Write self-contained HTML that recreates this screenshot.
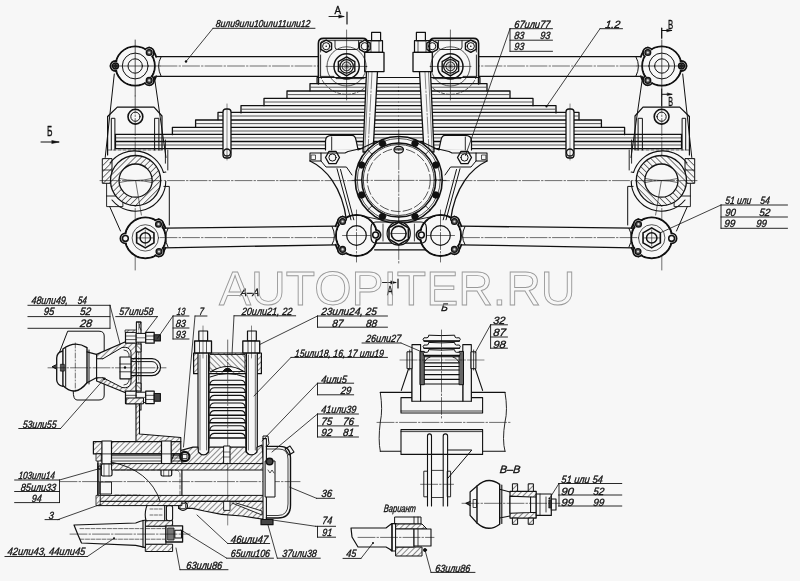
<!DOCTYPE html>
<html><head><meta charset="utf-8"><style>
html,body{margin:0;padding:0;background:#f7f7f7;}
svg{display:block;filter:grayscale(100%);}
text{font-family:"Liberation Sans",sans-serif;font-style:italic;fill:#111;stroke:#111;stroke-width:0.35;}
</style></head><body>
<svg width="800" height="581" viewBox="0 0 800 581">
<defs>
<pattern id="h45" patternUnits="userSpaceOnUse" width="4" height="4" patternTransform="rotate(45)">
<rect width="4" height="4" fill="#f7f7f7"/><line x1="0" y1="0" x2="0" y2="4" stroke="#1a1a1a" stroke-width="1"/></pattern>
<pattern id="h135" patternUnits="userSpaceOnUse" width="4" height="4" patternTransform="rotate(-45)">
<rect width="4" height="4" fill="#f7f7f7"/><line x1="0" y1="0" x2="0" y2="4" stroke="#1a1a1a" stroke-width="1"/></pattern>
<pattern id="hatch" patternUnits="userSpaceOnUse" width="4.3" height="4.3" patternTransform="rotate(45)">
<rect width="4.3" height="4.3" fill="#f7f7f7"/><line x1="0" y1="0" x2="0" y2="4.3" stroke="#1a1a1a" stroke-width="1.2"/></pattern>
</defs>
<rect width="800" height="581" fill="#f7f7f7"/>
<g fill="none" stroke="#111" stroke-linecap="round" stroke-linejoin="round">
<g><path d="M149.2,47.5 Q153.2,48.5 156.2,56.7" stroke-width="1.8" fill="none" /><path d="M149.2,85.4 Q153.2,84.4 156.2,76.3" stroke-width="1.8" fill="none" /><path d="M152.2,56.6 L152.2,76.35" stroke-width="1.2" fill="none" /><circle cx="135.2" cy="66" r="19.6" stroke-width="2" fill="#f7f7f7" /><circle cx="149.2" cy="52.5" r="4.8" stroke-width="1.8" fill="#f7f7f7" /><circle cx="149.2" cy="80.4" r="4.8" stroke-width="1.8" fill="#f7f7f7" /><circle cx="115.5" cy="66" r="5" stroke-width="1.8" fill="#f7f7f7" /><circle cx="135.2" cy="66" r="18.6" stroke-width="0" fill="#f7f7f7" /><circle cx="149.2" cy="52.5" r="2.9" stroke-width="1.3" fill="#555" /><circle cx="149.2" cy="52.5" r="1.1" stroke-width="0" fill="#ddd" /><circle cx="149.2" cy="80.4" r="2.9" stroke-width="1.3" fill="#555" /><circle cx="149.2" cy="80.4" r="1.1" stroke-width="0" fill="#ddd" /><circle cx="115.5" cy="66" r="2.9" stroke-width="1.5" fill="none" /><path d="M113.3,66 l2.2,-2.4 l2.2,2.4 l-2.2,2.4z" stroke-width="0.8" fill="#222" /><circle cx="135.2" cy="66" r="12.9" stroke-width="1" fill="none" /><circle cx="135.2" cy="66" r="7.2" stroke-width="1" fill="none" /><line x1="135.2" y1="40" x2="135.2" y2="96" stroke-width="0.7" /><line x1="110" y1="66" x2="160" y2="66" stroke-width="0.7" /><line x1="156" y1="56.7" x2="318" y2="56.7" stroke-width="1.3" /><line x1="156" y1="76.3" x2="318" y2="76.3" stroke-width="1.3" /><path d="M161,57 Q156,66 161,76" stroke-width="1" fill="none" /><line x1="160" y1="66" x2="318" y2="66" stroke-width="0.6" stroke-dasharray="17 2 1.5 2"/><path d="M318.4,84 L318.4,43.4 Q318.4,38.4 323.4,38.4 L362.6,38.4 Q367.6,38.4 367.6,43.4 L367.6,52" stroke-width="1.6" fill="none" /><path d="M320.6,55 L320.6,76.4 L334,76.4 L336,78.6 L364,78.6" stroke-width="0.9" fill="none" /><path d="M320.6,52 L320.6,44 Q320.6,40.6 324,40.6 L362,40.6" stroke-width="0.8" fill="none" /><path d="M335,40.6 L335,47 Q335,49.5 337.5,49.5 L356,49.5 Q358.6,49.5 358.6,47 L358.6,40.6" stroke-width="0.9" fill="none" /><polygon points="326.20,52.40 320.83,49.30 320.83,43.10 326.20,40.00 331.57,43.10 331.57,49.30" stroke-width="1.4" fill="none"/><circle cx="326.2" cy="46.2" r="3.6" stroke-width="1" fill="none" /><circle cx="326.2" cy="46.2" r="0.8" stroke-width="0" fill="#111" /><polygon points="364.80,52.40 359.43,49.30 359.43,43.10 364.80,40.00 370.17,43.10 370.17,49.30" stroke-width="1.4" fill="none"/><circle cx="364.8" cy="46.2" r="3.6" stroke-width="1" fill="none" /><circle cx="346.6" cy="66.4" r="19.6" stroke-width="0.7" fill="none" /><path d="M320.3,76 A28,28 0 0 0 372.9,76" stroke-width="0.7" fill="none" stroke-dasharray="3 2"/><circle cx="346.6" cy="66.4" r="12.6" stroke-width="1.5" fill="none" /><polygon points="346.60,75.90 338.37,71.15 338.37,61.65 346.60,56.90 354.83,61.65 354.83,71.15" stroke-width="1.4" fill="none"/><circle cx="346.6" cy="66.4" r="6.7" stroke-width="1.3" fill="none" /><circle cx="346.6" cy="66.4" r="4.5" stroke-width="0.9" fill="none" /><line x1="351.1" y1="66.4" x2="342.1" y2="66.4" stroke-width="0.4" /><line x1="350.49711431702997" y1="68.65" x2="342.7028856829701" y2="64.15" stroke-width="0.4" /><line x1="348.85" y1="70.29711431702998" x2="344.35" y2="62.50288568297003" stroke-width="0.4" /><line x1="346.6" y1="70.9" x2="346.6" y2="61.900000000000006" stroke-width="0.4" /><line x1="344.35" y1="70.29711431702998" x2="348.85" y2="62.50288568297003" stroke-width="0.4" /><line x1="342.7028856829701" y1="68.65" x2="350.49711431702997" y2="64.15" stroke-width="0.4" /><line x1="346.6" y1="30" x2="346.6" y2="100" stroke-width="0.6" /><line x1="326" y1="66.4" x2="367" y2="66.4" stroke-width="0.6" /><rect x="364.7" y="52.4" width="19.3" height="19.2" rx="0" stroke-width="1.3" fill="none" /><rect x="367.5" y="40.7" width="15" height="11.7" rx="0" stroke-width="1.2" fill="none" /><line x1="371" y1="40.7" x2="371" y2="52.4" stroke-width="0.7" /><line x1="379" y1="40.7" x2="379" y2="52.4" stroke-width="0.7" /><rect x="371.6" y="32.4" width="9" height="8.3" rx="0" stroke-width="1.2" fill="none" /><path d="M398.5,83.6 L310,83.6 L310,90.89999999999999" stroke-width="1.3" fill="none" /><line x1="310.7" y1="87.19999999999999" x2="398.5" y2="87.19999999999999" stroke-width="0.9" stroke="#444"/><path d="M398.5,91 L287,91 L287,98.3" stroke-width="1.3" fill="none" /><line x1="287.7" y1="94.6" x2="398.5" y2="94.6" stroke-width="0.9" stroke="#444"/><path d="M398.5,98.4 L264,98.4 L264,105.7" stroke-width="1.3" fill="none" /><line x1="264.7" y1="102.0" x2="398.5" y2="102.0" stroke-width="0.9" stroke="#444"/><path d="M398.5,105.6 L241,105.6 L241,112.89999999999999" stroke-width="1.3" fill="none" /><line x1="241.7" y1="109.19999999999999" x2="398.5" y2="109.19999999999999" stroke-width="0.9" stroke="#444"/><path d="M398.5,112.4 L218,112.4 L218,119.7" stroke-width="1.3" fill="none" /><line x1="218.7" y1="116.0" x2="398.5" y2="116.0" stroke-width="0.9" stroke="#444"/><path d="M398.5,120 L195.6,120 L195.6,127.3" stroke-width="1.3" fill="none" /><line x1="196.29999999999998" y1="123.6" x2="398.5" y2="123.6" stroke-width="0.9" stroke="#444"/><path d="M398.5,127.4 L172.4,127.4 L172.4,134.70000000000002" stroke-width="1.3" fill="none" /><line x1="173.1" y1="131.0" x2="398.5" y2="131.0" stroke-width="0.9" stroke="#444"/><line x1="115.5" y1="134.4" x2="398.5" y2="134.4" stroke-width="1.3" /><line x1="115.5" y1="137.9" x2="398.5" y2="137.9" stroke-width="0.9" stroke="#444"/><line x1="115.5" y1="141.5" x2="398.5" y2="141.5" stroke-width="1.3" /><line x1="115.5" y1="145" x2="398.5" y2="145" stroke-width="0.9" stroke="#444"/><line x1="115.5" y1="148.6" x2="398.5" y2="148.6" stroke-width="1.3" /><line x1="115.5" y1="134.4" x2="115.5" y2="148.4" stroke-width="1.2" /><path d="M398.5,77.5 L317,77.5 L317,83.6" stroke-width="1.1" fill="none" /><path d="M366.5,71.6 L377.5,71.6 L373,152 L363,152 Z" stroke-width="1.3" fill="#f7f7f7" /><line x1="372" y1="72" x2="368" y2="151" stroke-width="0.5" stroke-dasharray="17 2 1.5 2"/><line x1="368.5" y1="72" x2="364.8" y2="151" stroke-width="0.5" /><rect x="223" y="109" width="8" height="49" rx="3" stroke-width="1.3" fill="#f7f7f7" /><circle cx="227" cy="152.5" r="3.5" stroke-width="1.3" fill="none" /><line x1="227" y1="104" x2="227" y2="160" stroke-width="0.5" /><path d="M107.6,116.5 L117.3,107.1 L154,107.1 L162,116 L162,150" stroke-width="1.2" fill="none" /><path d="M107.6,116.5 L107.6,155" stroke-width="1.2" fill="none" /><path d="M111.3,150 L111.3,118.3 L114.9,118.3 L114.9,150" stroke-width="1" fill="none" /><path d="M154.6,150 L154.6,118.3 L158.9,118.3 L158.9,150" stroke-width="1" fill="none" /><circle cx="135.4" cy="116.7" r="7.4" stroke-width="1.6" fill="none" /><circle cx="135.4" cy="116.7" r="4.6" stroke-width="1" fill="none" /><line x1="114.3" y1="74" x2="105.2" y2="157.5" stroke-width="1" /><line x1="154.3" y1="76.3" x2="166" y2="157.5" stroke-width="1" /><line x1="135.2" y1="96" x2="135.2" y2="270" stroke-width="0.6" stroke-dasharray="17 2 1.5 2"/><path d="M106.6,183 L106.6,206.6 L122.9,206.6 L122.9,196 L106.6,196" stroke-width="0.9" fill="none" /><rect x="102.7" y="158.6" width="9.3" height="24.7" rx="0" stroke-width="1" fill="url(#hatch)" /><line x1="102.7" y1="170" x2="112" y2="170" stroke-width="0.8" /><circle cx="135.6" cy="180.6" r="25.1" stroke-width="0" fill="#f7f7f7" /><circle cx="135.6" cy="180.6" r="20.9" stroke-width="8.4" fill="none" stroke="url(#hatch)"/><circle cx="135.6" cy="180.6" r="25.1" stroke-width="1.3" fill="none" /><circle cx="135.6" cy="180.6" r="16.6" stroke-width="1.3" fill="none" /><path d="M110,163 A30.5,30.5 0 0 1 163.5,172.5" stroke-width="1.1" fill="none" /><path d="M163.5,172.5 L165.8,172" stroke-width="1.1" fill="none" /><path d="M165.8,181 A30.3,30.3 0 0 1 112,200" stroke-width="1.1" fill="none" /><path d="M119.5,178.5 Q135.6,182.5 151.7,178.5 M119.5,182.5 Q135.6,178.5 151.7,182.5" stroke-width="0.6" fill="none" /><line x1="100" y1="180.6" x2="398.5" y2="180.6" stroke-width="0.6" stroke-dasharray="17 2 1.5 2"/><line x1="135.6" y1="180.6" x2="141.4" y2="215" stroke-width="0.6" /><line x1="109.7" y1="206.6" x2="120.5" y2="231" stroke-width="1" /><path d="M163.9,186.4 L169.3,186.4 L169.3,225" stroke-width="1" fill="none" /><line x1="165.4" y1="140" x2="165.4" y2="163.2" stroke-width="0.9" /><line x1="167.8" y1="150" x2="167.8" y2="170" stroke-width="0.9" /><line x1="108" y1="150" x2="163" y2="150" stroke-width="0.6" stroke-dasharray="3 2"/><path d="M158.5,219.2 Q162.5,220.2 165.5,228" stroke-width="1.8" fill="none" /><path d="M158.5,256.6 Q162.5,255.6 165.5,247.8" stroke-width="1.8" fill="none" /><path d="M161.5,228.1 L161.5,247.7" stroke-width="1.2" fill="none" /><circle cx="145.3" cy="237.9" r="20.3" stroke-width="2" fill="#f7f7f7" /><circle cx="158.5" cy="224.2" r="4.8" stroke-width="1.8" fill="#f7f7f7" /><circle cx="159" cy="251.6" r="4.8" stroke-width="1.8" fill="#f7f7f7" /><circle cx="125.4" cy="238.4" r="5" stroke-width="1.8" fill="#f7f7f7" /><circle cx="145.3" cy="237.9" r="19.3" stroke-width="0" fill="#f7f7f7" /><circle cx="158.5" cy="224.2" r="2.9" stroke-width="1.3" fill="#555" /><circle cx="158.5" cy="224.2" r="1.1" stroke-width="0" fill="#ddd" /><circle cx="159" cy="251.6" r="2.9" stroke-width="1.3" fill="#555" /><circle cx="159" cy="251.6" r="1.1" stroke-width="0" fill="#ddd" /><circle cx="125.4" cy="238.4" r="2.9" stroke-width="1.5" fill="none" /><polygon points="145.30,247.90 136.64,242.90 136.64,232.90 145.30,227.90 153.96,232.90 153.96,242.90" stroke-width="1.6" fill="none"/><circle cx="145.3" cy="237.9" r="5.2" stroke-width="1.5" fill="none" /><circle cx="145.3" cy="237.9" r="13.2" stroke-width="0.7" fill="none" /><line x1="137.3" y1="237.9" x2="153.3" y2="237.9" stroke-width="0.6" /><line x1="145.3" y1="229.9" x2="145.3" y2="245.9" stroke-width="0.6" /><line x1="164" y1="228.1" x2="336" y2="226.2" stroke-width="1.3" /><line x1="164" y1="247.8" x2="336" y2="244.8" stroke-width="1.3" /><path d="M168,228.5 Q163,237.6 168,247" stroke-width="1" fill="none" /><path d="M332,226.5 Q337,236 332,244.6" stroke-width="1" fill="none" /><line x1="160" y1="237.6" x2="336" y2="237.6" stroke-width="0.6" stroke-dasharray="17 2 1.5 2"/><path d="M342.6,216.5 Q338.6,217.5 335.6,226.2" stroke-width="1.8" fill="none" /><path d="M342.6,254.4 Q338.6,253.4 335.6,244.8" stroke-width="1.8" fill="none" /><path d="M339.6,225.85 L339.6,245.10000000000002" stroke-width="1.2" fill="none" /><circle cx="356.5" cy="235.5" r="20.5" stroke-width="2" fill="#f7f7f7" /><circle cx="342.6" cy="221.5" r="4.8" stroke-width="1.8" fill="#f7f7f7" /><circle cx="342.6" cy="249.4" r="4.8" stroke-width="1.8" fill="#f7f7f7" /><circle cx="375.6" cy="235" r="5" stroke-width="1.8" fill="#f7f7f7" /><circle cx="356.5" cy="235.5" r="19.5" stroke-width="0" fill="#f7f7f7" /><circle cx="342.6" cy="221.5" r="2.9" stroke-width="1.3" fill="#555" /><circle cx="342.6" cy="221.5" r="1.1" stroke-width="0" fill="#ddd" /><circle cx="342.6" cy="249.4" r="2.9" stroke-width="1.3" fill="#555" /><circle cx="342.6" cy="249.4" r="1.1" stroke-width="0" fill="#ddd" /><circle cx="375.6" cy="235" r="2.9" stroke-width="1.5" fill="none" /><circle cx="356.5" cy="235.5" r="9.8" stroke-width="1.2" fill="none" /><line x1="342.5" y1="235.5" x2="370.5" y2="235.5" stroke-width="0.6" /><line x1="356.5" y1="210" x2="356.5" y2="262" stroke-width="0.6" stroke-dasharray="17 2 1.5 2"/><path d="M325.5,150 L325.5,141 Q325.5,135.4 332,135.4 L352,135.4 Q355,135.4 356,140 L358,149.4" stroke-width="1.2" fill="#f7f7f7" /><line x1="331.7" y1="137" x2="331.7" y2="150" stroke-width="0.9" /><path d="M310,153 L310,161 L321,161 L321,153 Z" stroke-width="1.1" fill="none" /><rect x="311.5" y="155" width="4" height="4.5" rx="0" stroke-width="0.7" fill="none" /><path d="M310,161 C325,168 342,186 346.4,220" stroke-width="1.3" fill="none" /><path d="M321,153 L345,153 L348,151.5 L360,148.8" stroke-width="1.1" fill="none" /><path d="M321,161 L326,167 L346.4,167 L352,175" stroke-width="1.0" fill="none" /><path d="M337,168.7 L351,219.8 M340.5,169.5 L353.8,219.8" stroke-width="1.0" fill="none" /><polygon points="339.50,157.50 336.00,163.56 329.00,163.56 325.50,157.50 329.00,151.44 336.00,151.44" stroke-width="1.3" fill="none"/><circle cx="332.5" cy="157.5" r="3.6" stroke-width="1" fill="none" /><path d="M358,150 L375,142" stroke-width="1.1" fill="none" /></g><g transform="matrix(-1,0,0,1,797.0,0)"><path d="M149.2,47.5 Q153.2,48.5 156.2,56.7" stroke-width="1.8" fill="none" /><path d="M149.2,85.4 Q153.2,84.4 156.2,76.3" stroke-width="1.8" fill="none" /><path d="M152.2,56.6 L152.2,76.35" stroke-width="1.2" fill="none" /><circle cx="135.2" cy="66" r="19.6" stroke-width="2" fill="#f7f7f7" /><circle cx="149.2" cy="52.5" r="4.8" stroke-width="1.8" fill="#f7f7f7" /><circle cx="149.2" cy="80.4" r="4.8" stroke-width="1.8" fill="#f7f7f7" /><circle cx="115.5" cy="66" r="5" stroke-width="1.8" fill="#f7f7f7" /><circle cx="135.2" cy="66" r="18.6" stroke-width="0" fill="#f7f7f7" /><circle cx="149.2" cy="52.5" r="2.9" stroke-width="1.3" fill="#555" /><circle cx="149.2" cy="52.5" r="1.1" stroke-width="0" fill="#ddd" /><circle cx="149.2" cy="80.4" r="2.9" stroke-width="1.3" fill="#555" /><circle cx="149.2" cy="80.4" r="1.1" stroke-width="0" fill="#ddd" /><circle cx="115.5" cy="66" r="2.9" stroke-width="1.5" fill="none" /><path d="M113.3,66 l2.2,-2.4 l2.2,2.4 l-2.2,2.4z" stroke-width="0.8" fill="#222" /><circle cx="135.2" cy="66" r="12.9" stroke-width="1" fill="none" /><circle cx="135.2" cy="66" r="7.2" stroke-width="1" fill="none" /><line x1="135.2" y1="40" x2="135.2" y2="96" stroke-width="0.7" /><line x1="110" y1="66" x2="160" y2="66" stroke-width="0.7" /><line x1="156" y1="56.7" x2="318" y2="56.7" stroke-width="1.3" /><line x1="156" y1="76.3" x2="318" y2="76.3" stroke-width="1.3" /><path d="M161,57 Q156,66 161,76" stroke-width="1" fill="none" /><line x1="160" y1="66" x2="318" y2="66" stroke-width="0.6" stroke-dasharray="17 2 1.5 2"/><path d="M318.4,84 L318.4,43.4 Q318.4,38.4 323.4,38.4 L362.6,38.4 Q367.6,38.4 367.6,43.4 L367.6,52" stroke-width="1.6" fill="none" /><path d="M320.6,55 L320.6,76.4 L334,76.4 L336,78.6 L364,78.6" stroke-width="0.9" fill="none" /><path d="M320.6,52 L320.6,44 Q320.6,40.6 324,40.6 L362,40.6" stroke-width="0.8" fill="none" /><path d="M335,40.6 L335,47 Q335,49.5 337.5,49.5 L356,49.5 Q358.6,49.5 358.6,47 L358.6,40.6" stroke-width="0.9" fill="none" /><polygon points="326.20,52.40 320.83,49.30 320.83,43.10 326.20,40.00 331.57,43.10 331.57,49.30" stroke-width="1.4" fill="none"/><circle cx="326.2" cy="46.2" r="3.6" stroke-width="1" fill="none" /><circle cx="326.2" cy="46.2" r="0.8" stroke-width="0" fill="#111" /><polygon points="364.80,52.40 359.43,49.30 359.43,43.10 364.80,40.00 370.17,43.10 370.17,49.30" stroke-width="1.4" fill="none"/><circle cx="364.8" cy="46.2" r="3.6" stroke-width="1" fill="none" /><circle cx="346.6" cy="66.4" r="19.6" stroke-width="0.7" fill="none" /><path d="M320.3,76 A28,28 0 0 0 372.9,76" stroke-width="0.7" fill="none" stroke-dasharray="3 2"/><circle cx="346.6" cy="66.4" r="12.6" stroke-width="1.5" fill="none" /><polygon points="346.60,75.90 338.37,71.15 338.37,61.65 346.60,56.90 354.83,61.65 354.83,71.15" stroke-width="1.4" fill="none"/><circle cx="346.6" cy="66.4" r="6.7" stroke-width="1.3" fill="none" /><circle cx="346.6" cy="66.4" r="4.5" stroke-width="0.9" fill="none" /><line x1="351.1" y1="66.4" x2="342.1" y2="66.4" stroke-width="0.4" /><line x1="350.49711431702997" y1="68.65" x2="342.7028856829701" y2="64.15" stroke-width="0.4" /><line x1="348.85" y1="70.29711431702998" x2="344.35" y2="62.50288568297003" stroke-width="0.4" /><line x1="346.6" y1="70.9" x2="346.6" y2="61.900000000000006" stroke-width="0.4" /><line x1="344.35" y1="70.29711431702998" x2="348.85" y2="62.50288568297003" stroke-width="0.4" /><line x1="342.7028856829701" y1="68.65" x2="350.49711431702997" y2="64.15" stroke-width="0.4" /><line x1="346.6" y1="30" x2="346.6" y2="100" stroke-width="0.6" /><line x1="326" y1="66.4" x2="367" y2="66.4" stroke-width="0.6" /><rect x="364.7" y="52.4" width="19.3" height="19.2" rx="0" stroke-width="1.3" fill="none" /><rect x="367.5" y="40.7" width="15" height="11.7" rx="0" stroke-width="1.2" fill="none" /><line x1="371" y1="40.7" x2="371" y2="52.4" stroke-width="0.7" /><line x1="379" y1="40.7" x2="379" y2="52.4" stroke-width="0.7" /><rect x="371.6" y="32.4" width="9" height="8.3" rx="0" stroke-width="1.2" fill="none" /><path d="M398.5,83.6 L310,83.6 L310,90.89999999999999" stroke-width="1.3" fill="none" /><line x1="310.7" y1="87.19999999999999" x2="398.5" y2="87.19999999999999" stroke-width="0.9" stroke="#444"/><path d="M398.5,91 L287,91 L287,98.3" stroke-width="1.3" fill="none" /><line x1="287.7" y1="94.6" x2="398.5" y2="94.6" stroke-width="0.9" stroke="#444"/><path d="M398.5,98.4 L264,98.4 L264,105.7" stroke-width="1.3" fill="none" /><line x1="264.7" y1="102.0" x2="398.5" y2="102.0" stroke-width="0.9" stroke="#444"/><path d="M398.5,105.6 L241,105.6 L241,112.89999999999999" stroke-width="1.3" fill="none" /><line x1="241.7" y1="109.19999999999999" x2="398.5" y2="109.19999999999999" stroke-width="0.9" stroke="#444"/><path d="M398.5,112.4 L218,112.4 L218,119.7" stroke-width="1.3" fill="none" /><line x1="218.7" y1="116.0" x2="398.5" y2="116.0" stroke-width="0.9" stroke="#444"/><path d="M398.5,120 L195.6,120 L195.6,127.3" stroke-width="1.3" fill="none" /><line x1="196.29999999999998" y1="123.6" x2="398.5" y2="123.6" stroke-width="0.9" stroke="#444"/><path d="M398.5,127.4 L172.4,127.4 L172.4,134.70000000000002" stroke-width="1.3" fill="none" /><line x1="173.1" y1="131.0" x2="398.5" y2="131.0" stroke-width="0.9" stroke="#444"/><line x1="115.5" y1="134.4" x2="398.5" y2="134.4" stroke-width="1.3" /><line x1="115.5" y1="137.9" x2="398.5" y2="137.9" stroke-width="0.9" stroke="#444"/><line x1="115.5" y1="141.5" x2="398.5" y2="141.5" stroke-width="1.3" /><line x1="115.5" y1="145" x2="398.5" y2="145" stroke-width="0.9" stroke="#444"/><line x1="115.5" y1="148.6" x2="398.5" y2="148.6" stroke-width="1.3" /><line x1="115.5" y1="134.4" x2="115.5" y2="148.4" stroke-width="1.2" /><path d="M398.5,77.5 L317,77.5 L317,83.6" stroke-width="1.1" fill="none" /><path d="M366.5,71.6 L377.5,71.6 L373,152 L363,152 Z" stroke-width="1.3" fill="#f7f7f7" /><line x1="372" y1="72" x2="368" y2="151" stroke-width="0.5" stroke-dasharray="17 2 1.5 2"/><line x1="368.5" y1="72" x2="364.8" y2="151" stroke-width="0.5" /><rect x="223" y="109" width="8" height="49" rx="3" stroke-width="1.3" fill="#f7f7f7" /><circle cx="227" cy="152.5" r="3.5" stroke-width="1.3" fill="none" /><line x1="227" y1="104" x2="227" y2="160" stroke-width="0.5" /><path d="M107.6,116.5 L117.3,107.1 L154,107.1 L162,116 L162,150" stroke-width="1.2" fill="none" /><path d="M107.6,116.5 L107.6,155" stroke-width="1.2" fill="none" /><path d="M111.3,150 L111.3,118.3 L114.9,118.3 L114.9,150" stroke-width="1" fill="none" /><path d="M154.6,150 L154.6,118.3 L158.9,118.3 L158.9,150" stroke-width="1" fill="none" /><circle cx="135.4" cy="116.7" r="7.4" stroke-width="1.6" fill="none" /><circle cx="135.4" cy="116.7" r="4.6" stroke-width="1" fill="none" /><line x1="114.3" y1="74" x2="105.2" y2="157.5" stroke-width="1" /><line x1="154.3" y1="76.3" x2="166" y2="157.5" stroke-width="1" /><line x1="135.2" y1="96" x2="135.2" y2="270" stroke-width="0.6" stroke-dasharray="17 2 1.5 2"/><path d="M106.6,183 L106.6,206.6 L122.9,206.6 L122.9,196 L106.6,196" stroke-width="0.9" fill="none" /><rect x="102.7" y="158.6" width="9.3" height="24.7" rx="0" stroke-width="1" fill="url(#hatch)" /><line x1="102.7" y1="170" x2="112" y2="170" stroke-width="0.8" /><circle cx="135.6" cy="180.6" r="25.1" stroke-width="0" fill="#f7f7f7" /><circle cx="135.6" cy="180.6" r="20.9" stroke-width="8.4" fill="none" stroke="url(#hatch)"/><circle cx="135.6" cy="180.6" r="25.1" stroke-width="1.3" fill="none" /><circle cx="135.6" cy="180.6" r="16.6" stroke-width="1.3" fill="none" /><path d="M110,163 A30.5,30.5 0 0 1 163.5,172.5" stroke-width="1.1" fill="none" /><path d="M163.5,172.5 L165.8,172" stroke-width="1.1" fill="none" /><path d="M165.8,181 A30.3,30.3 0 0 1 112,200" stroke-width="1.1" fill="none" /><path d="M119.5,178.5 Q135.6,182.5 151.7,178.5 M119.5,182.5 Q135.6,178.5 151.7,182.5" stroke-width="0.6" fill="none" /><line x1="100" y1="180.6" x2="398.5" y2="180.6" stroke-width="0.6" stroke-dasharray="17 2 1.5 2"/><line x1="135.6" y1="180.6" x2="141.4" y2="215" stroke-width="0.6" /><line x1="109.7" y1="206.6" x2="120.5" y2="231" stroke-width="1" /><path d="M163.9,186.4 L169.3,186.4 L169.3,225" stroke-width="1" fill="none" /><line x1="165.4" y1="140" x2="165.4" y2="163.2" stroke-width="0.9" /><line x1="167.8" y1="150" x2="167.8" y2="170" stroke-width="0.9" /><line x1="108" y1="150" x2="163" y2="150" stroke-width="0.6" stroke-dasharray="3 2"/><path d="M158.5,219.2 Q162.5,220.2 165.5,228" stroke-width="1.8" fill="none" /><path d="M158.5,256.6 Q162.5,255.6 165.5,247.8" stroke-width="1.8" fill="none" /><path d="M161.5,228.1 L161.5,247.7" stroke-width="1.2" fill="none" /><circle cx="145.3" cy="237.9" r="20.3" stroke-width="2" fill="#f7f7f7" /><circle cx="158.5" cy="224.2" r="4.8" stroke-width="1.8" fill="#f7f7f7" /><circle cx="159" cy="251.6" r="4.8" stroke-width="1.8" fill="#f7f7f7" /><circle cx="125.4" cy="238.4" r="5" stroke-width="1.8" fill="#f7f7f7" /><circle cx="145.3" cy="237.9" r="19.3" stroke-width="0" fill="#f7f7f7" /><circle cx="158.5" cy="224.2" r="2.9" stroke-width="1.3" fill="#555" /><circle cx="158.5" cy="224.2" r="1.1" stroke-width="0" fill="#ddd" /><circle cx="159" cy="251.6" r="2.9" stroke-width="1.3" fill="#555" /><circle cx="159" cy="251.6" r="1.1" stroke-width="0" fill="#ddd" /><circle cx="125.4" cy="238.4" r="2.9" stroke-width="1.5" fill="none" /><polygon points="145.30,247.90 136.64,242.90 136.64,232.90 145.30,227.90 153.96,232.90 153.96,242.90" stroke-width="1.6" fill="none"/><circle cx="145.3" cy="237.9" r="5.2" stroke-width="1.5" fill="none" /><circle cx="145.3" cy="237.9" r="13.2" stroke-width="0.7" fill="none" /><line x1="137.3" y1="237.9" x2="153.3" y2="237.9" stroke-width="0.6" /><line x1="145.3" y1="229.9" x2="145.3" y2="245.9" stroke-width="0.6" /><line x1="164" y1="228.1" x2="336" y2="226.2" stroke-width="1.3" /><line x1="164" y1="247.8" x2="336" y2="244.8" stroke-width="1.3" /><path d="M168,228.5 Q163,237.6 168,247" stroke-width="1" fill="none" /><path d="M332,226.5 Q337,236 332,244.6" stroke-width="1" fill="none" /><line x1="160" y1="237.6" x2="336" y2="237.6" stroke-width="0.6" stroke-dasharray="17 2 1.5 2"/><path d="M342.6,216.5 Q338.6,217.5 335.6,226.2" stroke-width="1.8" fill="none" /><path d="M342.6,254.4 Q338.6,253.4 335.6,244.8" stroke-width="1.8" fill="none" /><path d="M339.6,225.85 L339.6,245.10000000000002" stroke-width="1.2" fill="none" /><circle cx="356.5" cy="235.5" r="20.5" stroke-width="2" fill="#f7f7f7" /><circle cx="342.6" cy="221.5" r="4.8" stroke-width="1.8" fill="#f7f7f7" /><circle cx="342.6" cy="249.4" r="4.8" stroke-width="1.8" fill="#f7f7f7" /><circle cx="375.6" cy="235" r="5" stroke-width="1.8" fill="#f7f7f7" /><circle cx="356.5" cy="235.5" r="19.5" stroke-width="0" fill="#f7f7f7" /><circle cx="342.6" cy="221.5" r="2.9" stroke-width="1.3" fill="#555" /><circle cx="342.6" cy="221.5" r="1.1" stroke-width="0" fill="#ddd" /><circle cx="342.6" cy="249.4" r="2.9" stroke-width="1.3" fill="#555" /><circle cx="342.6" cy="249.4" r="1.1" stroke-width="0" fill="#ddd" /><circle cx="375.6" cy="235" r="2.9" stroke-width="1.5" fill="none" /><circle cx="356.5" cy="235.5" r="9.8" stroke-width="1.2" fill="none" /><line x1="342.5" y1="235.5" x2="370.5" y2="235.5" stroke-width="0.6" /><line x1="356.5" y1="210" x2="356.5" y2="262" stroke-width="0.6" stroke-dasharray="17 2 1.5 2"/><path d="M325.5,150 L325.5,141 Q325.5,135.4 332,135.4 L352,135.4 Q355,135.4 356,140 L358,149.4" stroke-width="1.2" fill="#f7f7f7" /><line x1="331.7" y1="137" x2="331.7" y2="150" stroke-width="0.9" /><path d="M310,153 L310,161 L321,161 L321,153 Z" stroke-width="1.1" fill="none" /><rect x="311.5" y="155" width="4" height="4.5" rx="0" stroke-width="0.7" fill="none" /><path d="M310,161 C325,168 342,186 346.4,220" stroke-width="1.3" fill="none" /><path d="M321,153 L345,153 L348,151.5 L360,148.8" stroke-width="1.1" fill="none" /><path d="M321,161 L326,167 L346.4,167 L352,175" stroke-width="1.0" fill="none" /><path d="M337,168.7 L351,219.8 M340.5,169.5 L353.8,219.8" stroke-width="1.0" fill="none" /><polygon points="339.50,157.50 336.00,163.56 329.00,163.56 325.50,157.50 329.00,151.44 336.00,151.44" stroke-width="1.3" fill="none"/><circle cx="332.5" cy="157.5" r="3.6" stroke-width="1" fill="none" /><path d="M358,150 L375,142" stroke-width="1.1" fill="none" /></g><circle cx="398.75" cy="180" r="43.5" stroke-width="1.6" fill="#f7f7f7" /><circle cx="398.75" cy="180" r="41.5" stroke-width="0.7" fill="none" /><circle cx="398.75" cy="180" r="37" stroke-width="1.5" fill="none" /><circle cx="398.75" cy="180" r="35.5" stroke-width="0.8" fill="none" /><circle cx="398.75" cy="180" r="31.5" stroke-width="0.7" fill="none" stroke-dasharray="9 3"/><circle cx="435.8373541826715" cy="194.98426373663648" r="3.3" stroke-width="0.8" fill="#111" /><circle cx="415.019465723032" cy="216.54181830570403" r="3.3" stroke-width="0.8" fill="#111" /><circle cx="382.480534276968" cy="216.54181830570403" r="3.3" stroke-width="0.8" fill="#111" /><circle cx="361.6626458173285" cy="194.98426373663648" r="3.3" stroke-width="0.8" fill="#111" /><circle cx="361.6626458173285" cy="165.01573626336352" r="3.3" stroke-width="0.8" fill="#111" /><circle cx="382.480534276968" cy="143.45818169429594" r="3.3" stroke-width="0.8" fill="#111" /><circle cx="415.019465723032" cy="143.45818169429594" r="3.3" stroke-width="0.8" fill="#111" /><circle cx="435.8373541826715" cy="165.0157362633635" r="3.3" stroke-width="0.8" fill="#111" /><line x1="435.75" y1="180.0" x2="442.25" y2="180.0" stroke-width="0.8" /><line x1="425.3655726125301" y1="205.7023597069829" x2="430.04128131473135" y2="210.21763911496637" stroke-width="0.8" /><line x1="398.75" y1="217.0" x2="398.75" y2="223.5" stroke-width="0.8" /><line x1="372.1344273874699" y1="205.7023597069829" x2="367.45871868526865" y2="210.21763911496637" stroke-width="0.8" /><line x1="361.75" y1="180.0" x2="355.25" y2="180.0" stroke-width="0.8" /><line x1="372.1344273874699" y1="154.29764029301708" x2="367.45871868526865" y2="149.78236088503363" stroke-width="0.8" /><line x1="398.75" y1="143.0" x2="398.75" y2="136.5" stroke-width="0.8" /><line x1="425.36557261253006" y1="154.29764029301708" x2="430.0412813147313" y2="149.7823608850336" stroke-width="0.8" /><line x1="398.75" y1="130" x2="398.75" y2="265" stroke-width="0.6" stroke-dasharray="17 2 1.5 2"/><line x1="352" y1="180.4" x2="446" y2="180.4" stroke-width="0.6" stroke-dasharray="17 2 1.5 2"/><path d="M376,222 L421,222 Q426.4,222 426.4,228 L426.4,237 Q426.4,243.2 421,243.2 L376,243.2 Q371,243.2 371,237 L371,228 Q371,222 376,222 Z" stroke-width="1.2" fill="none" /><line x1="374.6" y1="249.8" x2="425.2" y2="249.8" stroke-width="1.2" /><path d="M383,224 L383,241 M414.4,224 L414.4,241" stroke-width="0.8" fill="none" /><circle cx="398.7" cy="233.5" r="11.6" stroke-width="1.2" fill="#f7f7f7" /><polygon points="398.70,244.70 389.00,239.10 389.00,227.90 398.70,222.30 408.40,227.90 408.40,239.10" stroke-width="1.6" fill="none"/><circle cx="398.7" cy="233.5" r="7.4" stroke-width="1.6" fill="none" /><line x1="391" y1="233.5" x2="406" y2="233.5" stroke-width="0.6" /><path d="M362,216 Q398.7,226 435,216" stroke-width="0.9" fill="none" /><ellipse cx="398.7" cy="149.8" rx="4.7" ry="3.4" stroke-width="1.3" fill="none"/><line x1="395" y1="149.8" x2="402.4" y2="149.8" stroke-width="1" /><path d="M58.8,354 L67.7,331.2 L99,331.2 Q104.2,331.2 104.2,336 L104.2,395 Q104.2,400 99,400 L77,400 Q73.2,400 73.2,391" stroke-width="1" fill="none" /><path d="M62.9,351 Q57,352 56.7,358 L56.7,380 Q57,385 62.9,386.3" stroke-width="1.3" fill="#f7f7f7" /><path d="M62.9,349 Q75,340 87,347.7 L87,382.8 Q75,397.8 62.9,385.6 Z" stroke-width="1.4" fill="#f7f7f7" /><line x1="65.7" y1="348.5" x2="65.7" y2="386.5" stroke-width="1" /><path d="M56.7,364.5 L52,366.8 L56.7,369.2" stroke-width="1" fill="#444" /><rect x="60.8" y="364.3" width="3.5" height="6.8" rx="0" stroke-width="0.8" fill="#555" /><line x1="75.3" y1="343" x2="75.3" y2="392" stroke-width="0.6" stroke-dasharray="5 2 1 2"/><path d="M87,351.9 L97.3,354.6 M87,382.8 L97.3,377.3" stroke-width="1.2" fill="none" /><line x1="89" y1="350" x2="89" y2="384" stroke-width="1" /><path d="M96.6,354.4 L125.5,341.7 L136.4,341.7 L136.4,392.8 L125.5,392.8 L96.6,381 Z" stroke-width="1.2" fill="url(#h45)" /><path d="M96.6,358.7 L120,358.7 L120,377.7 L96.6,377.7 Z" stroke-width="1.1" fill="#f7f7f7" /><path d="M103,358.7 L122,347.5 Q129,346 131,352 L131,383 Q129,389 122,387.5 L103,377.7" stroke-width="1" fill="#f7f7f7" /><path d="M124,350 Q128,350 129,354 L129,381 Q128,385 124,385" stroke-width="0.8" fill="none" /><rect x="136.4" y="322" width="4.6" height="88" rx="0" stroke-width="1.1" fill="#f7f7f7" /><line x1="138.7" y1="322" x2="138.7" y2="410" stroke-width="0.5" stroke-dasharray="3 2"/><rect x="136.4" y="344" width="4.6" height="8" rx="0" stroke-width="1" fill="url(#h135)" /><rect x="136.4" y="383" width="4.6" height="8" rx="0" stroke-width="1" fill="url(#h135)" /><path d="M136.4,322 L141,322 L139,326 L141,330" stroke-width="0.9" fill="none" /><path d="M131,358.7 L152,358.7 A8.5,8.5 0 0 1 152,375.7 L131,375.7" stroke-width="1.2" fill="none" /><path d="M131,361.6 L152,361.6 A5.6,5.6 0 0 1 152,372.8 L131,372.8" stroke-width="1" fill="none" /><rect x="120" y="357" width="11" height="21.8" rx="0" stroke-width="1.2" fill="#f7f7f7" /><line x1="120" y1="364" x2="131" y2="364" stroke-width="0.8" /><line x1="120" y1="371.8" x2="131" y2="371.8" stroke-width="0.8" /><circle cx="125" cy="367.5" r="1.2" stroke-width="0" fill="#111" /><rect x="125.5" y="332.4" width="10.9" height="10.800000000000011" rx="0" stroke-width="1.2" fill="#f7f7f7" /><rect x="136.4" y="333.4" width="9.3" height="8.800000000000011" rx="0" stroke-width="1" fill="#f7f7f7" /><rect x="145.7" y="332.4" width="8.5" height="10.800000000000011" rx="0" stroke-width="1.2" fill="#f7f7f7" /><rect x="154.2" y="334.7" width="6.2" height="6.200000000000012" rx="0" stroke-width="1.1" fill="#444" /><line x1="125.5" y1="336.0" x2="136.4" y2="336.0" stroke-width="0.7" /><line x1="125.5" y1="339.59999999999997" x2="136.4" y2="339.59999999999997" stroke-width="0.7" /><line x1="145.7" y1="336.0" x2="154.2" y2="336.0" stroke-width="0.7" /><line x1="145.7" y1="339.59999999999997" x2="154.2" y2="339.59999999999997" stroke-width="0.7" /><line x1="136.4" y1="337.79999999999995" x2="145.7" y2="337.79999999999995" stroke-width="0.6" /><rect x="125.5" y="391.2" width="10.9" height="12.400000000000034" rx="0" stroke-width="1.2" fill="#f7f7f7" /><rect x="136.4" y="392.2" width="9.3" height="10.400000000000034" rx="0" stroke-width="1" fill="#f7f7f7" /><rect x="145.7" y="391.2" width="8.5" height="12.400000000000034" rx="0" stroke-width="1.2" fill="#f7f7f7" /><rect x="154.2" y="393.5" width="6.2" height="7.8000000000000345" rx="0" stroke-width="1.1" fill="#444" /><line x1="125.5" y1="395.3333333333333" x2="136.4" y2="395.3333333333333" stroke-width="0.7" /><line x1="125.5" y1="399.4666666666667" x2="136.4" y2="399.4666666666667" stroke-width="0.7" /><line x1="145.7" y1="395.3333333333333" x2="154.2" y2="395.3333333333333" stroke-width="0.7" /><line x1="145.7" y1="399.4666666666667" x2="154.2" y2="399.4666666666667" stroke-width="0.7" /><line x1="136.4" y1="397.4" x2="145.7" y2="397.4" stroke-width="0.6" /><rect x="125.5" y="330" width="10.9" height="2.4" rx="0" stroke-width="0.8" fill="url(#h45)" /><line x1="48" y1="367.8" x2="166" y2="367.8" stroke-width="0.6" stroke-dasharray="17 2 1.5 2"/><rect x="193.6" y="353" width="67.8" height="20.7" rx="0" stroke-width="1.2" fill="url(#h45)" /><rect x="210" y="354.5" width="35" height="17" rx="0" stroke-width="0.9" fill="url(#h135)" /><path d="M212,371 Q227.7,362 243,371" stroke-width="1.2" fill="#f7f7f7" /><path d="M223,371 Q227.7,365 232,371Z" stroke-width="1" fill="#111" /><path d="M198,353 L198,451 Q198,455 203.25,455 Q208.5,455 208.5,451 L208.5,353" stroke-width="1.2" fill="#f7f7f7" /><line x1="200" y1="355" x2="200" y2="450" stroke-width="0.6" /><line x1="206.5" y1="355" x2="206.5" y2="450" stroke-width="0.6" /><path d="M246.4,353 L246.4,451 Q246.4,455 251.85000000000002,455 Q257.3,455 257.3,451 L257.3,353" stroke-width="1.2" fill="#f7f7f7" /><line x1="248.4" y1="355" x2="248.4" y2="450" stroke-width="0.6" /><line x1="255.3" y1="355" x2="255.3" y2="450" stroke-width="0.6" /><rect x="198.8" y="331" width="8.8" height="10" rx="0" stroke-width="1.2" fill="#f7f7f7" /><rect x="194.6" y="341" width="16.9" height="12" rx="0" stroke-width="1.3" fill="#f7f7f7" /><rect x="247.5" y="331" width="8.8" height="10" rx="0" stroke-width="1.2" fill="#f7f7f7" /><rect x="242.8" y="341" width="16.9" height="12" rx="0" stroke-width="1.3" fill="#f7f7f7" /><line x1="199.5" y1="341" x2="199.5" y2="353" stroke-width="0.7" /><line x1="206.5" y1="341" x2="206.5" y2="353" stroke-width="0.7" /><line x1="248" y1="341" x2="248" y2="353" stroke-width="0.7" /><line x1="255" y1="341" x2="255" y2="353" stroke-width="0.7" /><line x1="203" y1="326" x2="203" y2="358" stroke-width="0.5" /><line x1="251.5" y1="326" x2="251.5" y2="358" stroke-width="0.5" /><line x1="209" y1="373" x2="209" y2="446" stroke-width="1.3" /><line x1="245.9" y1="373" x2="245.9" y2="446" stroke-width="1.3" /><path d="M209.7,384.8 Q210.5,380.2 214.5,380.2 L240.7,380.2 Q244.8,380.2 245.3,384.8" stroke-width="1.1" fill="none" /><line x1="209" y1="384.8" x2="245.9" y2="384.8" stroke-width="1.4" /><path d="M209.7,392.40000000000003 Q210.5,387.8 214.5,387.8 L240.7,387.8 Q244.8,387.8 245.3,392.40000000000003" stroke-width="1.1" fill="none" /><line x1="209" y1="392.40000000000003" x2="245.9" y2="392.40000000000003" stroke-width="1.4" /><path d="M209.7,400.0 Q210.5,395.4 214.5,395.4 L240.7,395.4 Q244.8,395.4 245.3,400.0" stroke-width="1.1" fill="none" /><line x1="209" y1="400.0" x2="245.9" y2="400.0" stroke-width="1.4" /><path d="M209.7,407.6 Q210.5,403.0 214.5,403.0 L240.7,403.0 Q244.8,403.0 245.3,407.6" stroke-width="1.1" fill="none" /><line x1="209" y1="407.6" x2="245.9" y2="407.6" stroke-width="1.4" /><path d="M209.7,415.2 Q210.5,410.59999999999997 214.5,410.59999999999997 L240.7,410.59999999999997 Q244.8,410.59999999999997 245.3,415.2" stroke-width="1.1" fill="none" /><line x1="209" y1="415.2" x2="245.9" y2="415.2" stroke-width="1.4" /><path d="M209.7,422.8 Q210.5,418.2 214.5,418.2 L240.7,418.2 Q244.8,418.2 245.3,422.8" stroke-width="1.1" fill="none" /><line x1="209" y1="422.8" x2="245.9" y2="422.8" stroke-width="1.4" /><path d="M209.7,430.4 Q210.5,425.79999999999995 214.5,425.79999999999995 L240.7,425.79999999999995 Q244.8,425.79999999999995 245.3,430.4" stroke-width="1.1" fill="none" /><line x1="209" y1="430.4" x2="245.9" y2="430.4" stroke-width="1.4" /><path d="M209.7,438.0 Q210.5,433.4 214.5,433.4 L240.7,433.4 Q244.8,433.4 245.3,438.0" stroke-width="1.1" fill="none" /><line x1="209" y1="438.0" x2="245.9" y2="438.0" stroke-width="1.4" /><path d="M210,377 Q227.7,370 245,377" stroke-width="1.0" fill="none" /><line x1="227.7" y1="340" x2="227.7" y2="462" stroke-width="0.6" stroke-dasharray="17 2 1.5 2"/><path d="M183,449.8 L193,447.2 L198,447.2 L198.4,452 Q203.5,458 208.7,452 L209,447.2 L245.7,447.2 L246,452 Q251.5,458 257,452 L257,447.2 L262,445 L263.8,463.6 L170,463.6 L175,452 Z" stroke-width="1.2" fill="url(#h45)" /><rect x="224" y="446" width="6" height="17.6" rx="0" stroke-width="1" fill="#f7f7f7" /><line x1="224" y1="452" x2="230" y2="452" stroke-width="0.6" /><line x1="224" y1="457" x2="230" y2="457" stroke-width="0.6" /><circle cx="184.8" cy="456.5" r="4.6" stroke-width="2.2" fill="#f7f7f7" /><rect x="182.6" y="454.3" width="4.4" height="4.4" rx="0" stroke-width="0.9" fill="none" /><path d="M136,403.8 L139.5,403.8 L139.5,434 L180.8,437.5 L180.8,441.6 L136,441.6 Z" stroke-width="1.1" fill="url(#h45)" /><rect x="126.5" y="398" width="17" height="5.8" rx="0" stroke-width="1" fill="url(#h45)" /><rect x="93.4" y="441.6" width="87.4" height="12.3" rx="0" stroke-width="1.2" fill="url(#h45)" /><rect x="97.9" y="453.9" width="84" height="50.6" rx="0" stroke-width="1.2" fill="none" /><path d="M96.4,453.9 L101.3,453.9 L101.3,461 L96.4,461Z" stroke-width="0.8" fill="url(#h45)" /><line x1="101.3" y1="455.7" x2="182" y2="455.7" stroke-width="0.8" /><line x1="101.3" y1="458" x2="182" y2="458" stroke-width="0.6" /><line x1="101.3" y1="461" x2="182" y2="461" stroke-width="0.8" /><rect x="101.9" y="441" width="9.6" height="23" rx="0" stroke-width="1.2" fill="#f7f7f7" /><rect x="161.5" y="441" width="9.7" height="23" rx="0" stroke-width="1.2" fill="#f7f7f7" /><line x1="101.9" y1="453.9" x2="111.5" y2="453.9" stroke-width="0.8" /><line x1="161.5" y1="453.9" x2="171.2" y2="453.9" stroke-width="0.8" /><rect x="101.3" y="464" width="10.7" height="12" rx="1.5" stroke-width="1.2" fill="#f7f7f7" /><rect x="161" y="464" width="10.7" height="12" rx="1.5" stroke-width="1.2" fill="#f7f7f7" /><line x1="104" y1="464" x2="104" y2="476" stroke-width="0.6" /><line x1="109" y1="464" x2="109" y2="476" stroke-width="0.6" /><line x1="163.7" y1="464" x2="163.7" y2="476" stroke-width="0.6" /><line x1="168.7" y1="464" x2="168.7" y2="476" stroke-width="0.6" /><circle cx="99.7" cy="467.7" r="1.7" stroke-width="1" fill="none" /><line x1="97.9" y1="463.5" x2="97.9" y2="505" stroke-width="1.2" /><line x1="100.2" y1="463.5" x2="100.2" y2="505" stroke-width="1" /><rect x="112" y="463.6" width="151.8" height="6.4" rx="0" stroke-width="1" fill="url(#h45)" /><rect x="172" y="463.6" width="0.1" height="0.1" rx="0" stroke-width="0" fill="none" /><rect x="100.2" y="495.4" width="163.6" height="6" rx="0" stroke-width="1" fill="url(#h45)" /><rect x="100.2" y="482" width="11.3" height="12" rx="0" stroke-width="0.9" fill="none" /><path d="M115,470 L175,470 Q180,470 180,475 L180,495 M115,495 L140,495" stroke-width="0.6" fill="none" stroke-dasharray="4 2"/><path d="M111,462 Q150,470 160,501" stroke-width="0.9" fill="none" /><line x1="60" y1="481.6" x2="300" y2="481.6" stroke-width="0.6" stroke-dasharray="17 2 1.5 2"/><line x1="227.7" y1="463" x2="227.7" y2="525" stroke-width="0.5" /><path d="M178.6,501.4 L263.8,501.4 L265.5,519.5 L242,516 L221.6,514.3 L204.4,511 L192.4,508.3 L178.6,508.3 Z" stroke-width="1.2" fill="url(#h45)" /><rect x="224" y="501.4" width="6" height="9" rx="0" stroke-width="0.9" fill="#f7f7f7" /><path d="M232,503 L262,515 L262,511 L236,503" stroke-width="0.9" fill="#f7f7f7" /><circle cx="183" cy="506" r="4.4" stroke-width="1.4" fill="#f7f7f7" /><rect x="180.5" y="503.5" width="5" height="5" rx="0" stroke-width="0.7" fill="none" /><rect x="263" y="438.6" width="3.4" height="84.4" rx="0" stroke-width="1.1" fill="#f7f7f7" /><path d="M266.4,446.4 L280,446.4 Q290.5,446.4 290.5,458 L290.5,505 Q290.5,518 278,518 L266.4,518" stroke-width="1.4" fill="none" /><path d="M266.4,449 L279,449 Q288,449 288,459 L288,504 Q288,515.5 278,515.5 L266.4,515.5" stroke-width="0.8" fill="none" /><rect x="265.5" y="461" width="9.5" height="36" rx="0" stroke-width="1" fill="#f7f7f7" /><path d="M268,470 l2,3 l2,-3 l2,3" stroke-width="0.7" fill="none" /><circle cx="269.6" cy="461.5" r="3.3" stroke-width="1.5" fill="#444" /><path d="M285,449 L290,446 L294,452 L289,455Z" stroke-width="1.1" fill="none" /><rect x="261" y="519.5" width="12" height="5.2" rx="0" stroke-width="1.2" fill="#444" /><path d="M263,438.6 L263,436 L268,436 L269,443.8 L266.4,446.4" stroke-width="1" fill="none" /><rect x="97.9" y="501.4" width="84" height="4.2" rx="0" stroke-width="1" fill="url(#h45)" /><rect x="96.4" y="495.4" width="3.8" height="10.2" rx="0" stroke-width="0.8" fill="url(#h45)" /><path d="M147,505.6 Q144,513 146,520.7 M164.7,505.6 L164.7,520.7" stroke-width="1.1" fill="none" /><line x1="150" y1="509" x2="162" y2="509" stroke-width="0.6" stroke-dasharray="3 1.5"/><line x1="150" y1="515" x2="162" y2="515" stroke-width="0.6" stroke-dasharray="3 1.5"/><rect x="166.4" y="505.6" width="6.2" height="15.1" rx="2" stroke-width="1.1" fill="#f7f7f7" /><path d="M74,525 L135.7,523 Q140,521 145.7,520 L145.7,547.6 Q140,546 135.7,545.3 L81.5,543 L78,535 Z" stroke-width="1.2" fill="none" /><line x1="143" y1="520.3" x2="143" y2="547.3" stroke-width="1.1" /><rect x="145.7" y="520.7" width="26.9" height="5.6" rx="0" stroke-width="1" fill="url(#h45)" /><rect x="145.7" y="544.2" width="26.9" height="7.3" rx="0" stroke-width="1" fill="url(#h45)" /><rect x="145.7" y="526.3" width="20.2" height="17.9" rx="0" stroke-width="1" fill="#f7f7f7" /><line x1="80" y1="528.6" x2="143" y2="528.6" stroke-width="0.6" stroke-dasharray="4 1.5"/><line x1="80" y1="539.2" x2="143" y2="539.2" stroke-width="0.6" stroke-dasharray="4 1.5"/><line x1="145.7" y1="528.6" x2="165" y2="528.6" stroke-width="0.6" stroke-dasharray="4 1.5"/><line x1="145.7" y1="539.2" x2="165" y2="539.2" stroke-width="0.6" stroke-dasharray="4 1.5"/><rect x="165.9" y="525.8" width="16.7" height="16.2" rx="0" stroke-width="1.3" fill="#f7f7f7" /><rect x="168" y="528" width="6" height="12" rx="0" stroke-width="0.8" fill="#777" /><rect x="174.8" y="530.2" width="6.7" height="7.8" rx="0" stroke-width="1.1" fill="#f7f7f7" /><line x1="70" y1="534.1" x2="190" y2="534.1" stroke-width="0.6" stroke-dasharray="17 2 1.5 2"/><path d="M380.3,392.4 Q383,410 380.3,422 Q378,440 380.3,451.3" stroke-width="0.9" fill="none" /><path d="M505,392.4 Q508,410 505,422 Q502,440 505,451.3" stroke-width="0.9" fill="none" /><line x1="380.3" y1="392.4" x2="505" y2="392.4" stroke-width="1.1" /><line x1="380.3" y1="451.3" x2="505" y2="451.3" stroke-width="1.1" /><rect x="401" y="397.6" width="81.6" height="15.4" rx="0" stroke-width="1.1" fill="#f7f7f7" /><line x1="401" y1="411" x2="482.6" y2="411" stroke-width="0.8" /><rect x="401" y="429.6" width="81.6" height="24.8" rx="0" stroke-width="1.1" fill="#f7f7f7" /><line x1="401" y1="431.6" x2="482.6" y2="431.6" stroke-width="0.8" /><line x1="377" y1="422.4" x2="512" y2="422.4" stroke-width="0.6" stroke-dasharray="17 2 1.5 2"/><path d="M401.3,390.4 L409.8,365 L412,365 L412,401.3" stroke-width="1.1" fill="none" /><path d="M482.6,390.4 L474,365 L471.3,365 L471.3,401.3" stroke-width="1.1" fill="none" /><rect x="412" y="344.6" width="8.6" height="56.7" rx="0" stroke-width="1.1" fill="#f7f7f7" /><rect x="462.8" y="344.6" width="8.5" height="56.7" rx="0" stroke-width="1.1" fill="#f7f7f7" /><rect x="420.6" y="356.7" width="42.2" height="44.6" rx="0" stroke-width="1.1" fill="#f7f7f7" /><line x1="424" y1="362.8" x2="459.3" y2="362.8" stroke-width="1.2" /><line x1="424" y1="366.5" x2="459.3" y2="366.5" stroke-width="1.2" /><line x1="424" y1="370" x2="459.3" y2="370" stroke-width="1.2" /><line x1="424" y1="374.6" x2="459.3" y2="374.6" stroke-width="1.2" /><line x1="424" y1="379.3" x2="459.3" y2="379.3" stroke-width="1.2" /><line x1="424" y1="384" x2="459.3" y2="384" stroke-width="1.2" /><rect x="420.3" y="351.4" width="4" height="33.3" rx="0" stroke-width="1" fill="#666" /><rect x="459.5" y="351.4" width="4" height="33.3" rx="0" stroke-width="1" fill="#666" /><path d="M424,341.0 Q422,339.4 424,337.8 L427,337.8 Q428.7,337.8 428.7,335.2 Q441.6,336.0 454.6,335.2 Q454.6,337.8 456.4,337.8 L459.4,337.8 Q461.4,339.4 459.4,341.0 Z" stroke-width="1" fill="#f7f7f7" /><line x1="424" y1="341.0" x2="459.4" y2="341.0" stroke-width="1.4" /><path d="M424,348.25 Q422,346.65 424,345.05 L427,345.05 Q428.7,345.05 428.7,342.45 Q441.6,343.25 454.6,342.45 Q454.6,345.05 456.4,345.05 L459.4,345.05 Q461.4,346.65 459.4,348.25 Z" stroke-width="1" fill="#f7f7f7" /><line x1="424" y1="348.25" x2="459.4" y2="348.25" stroke-width="1.4" /><path d="M424,355.5 Q422,353.9 424,352.3 L427,352.3 Q428.7,352.3 428.7,349.7 Q441.6,350.5 454.6,349.7 Q454.6,352.3 456.4,352.3 L459.4,352.3 Q461.4,353.9 459.4,355.5 Z" stroke-width="1" fill="#f7f7f7" /><line x1="424" y1="355.5" x2="459.4" y2="355.5" stroke-width="1.4" /><path d="M424.3,362 Q427,357 430,357 M453,357 Q456,357 459,362" stroke-width="0.9" fill="none" /><rect x="407.4" y="351.8" width="4.6" height="16.9" rx="0" stroke-width="1" fill="#f7f7f7" /><rect x="471.3" y="351.8" width="4.6" height="16.9" rx="0" stroke-width="1" fill="#f7f7f7" /><line x1="409.7" y1="350" x2="409.7" y2="370" stroke-width="0.8" /><line x1="473.6" y1="350" x2="473.6" y2="370" stroke-width="0.8" /><line x1="400" y1="360" x2="484" y2="360" stroke-width="0.5" stroke-dasharray="17 2 1.5 2"/><line x1="441.5" y1="330" x2="441.5" y2="418" stroke-width="0.6" stroke-dasharray="17 2 1.5 2"/><path d="M427.5,506 L427.5,436 Q427.5,433.9 429.5,433.9 Q431.5,433.9 431.5,436 L431.5,506" stroke-width="1.1" fill="none" /><path d="M443.2,506 L443.2,436 Q443.2,433.9 445.4,433.9 Q447.6,433.9 447.6,436 L447.6,506" stroke-width="1.1" fill="none" /><path d="M447.6,450 L471.8,450 L447.6,478.5" stroke-width="1" fill="none" /><rect x="424.2" y="471.2" width="3.3" height="25.6" rx="0" stroke-width="0.9" fill="none" /><rect x="447.6" y="471.2" width="3" height="25.6" rx="0" stroke-width="0.9" fill="none" /><line x1="431.5" y1="454.4" x2="443.2" y2="454.4" stroke-width="0.8" /><line x1="431.5" y1="470.4" x2="443.2" y2="470.4" stroke-width="0.8" /><line x1="431.5" y1="497.5" x2="443.2" y2="497.5" stroke-width="0.8" /><line x1="420.6" y1="484.3" x2="453.5" y2="484.3" stroke-width="0.6" stroke-dasharray="17 2 1.5 2"/><path d="M477,486 L470.1,492 L470.1,515.4 L477,523" stroke-width="1.2" fill="#f7f7f7" /><path d="M477,486 Q488,476 499.7,484.4 L499.7,524.3 Q488,533 477,523 Z" stroke-width="1.4" fill="#f7f7f7" /><path d="M470.1,501.5 L466,503.3 L470.1,505.5" stroke-width="1.1" fill="#555" /><rect x="473.5" y="499.5" width="3" height="8" rx="0" stroke-width="0.8" fill="none" /><path d="M499.7,489.3 L510,492 M499.7,518 L510,516 M501.8,485 L501.8,523.5" stroke-width="1.1" fill="none" /><rect x="510" y="491.3" width="26.2" height="26.8" rx="0" stroke-width="1.2" fill="url(#h45)" /><path d="M510,496.1 L531,497 L531,512.5 L510,513.3 Z" stroke-width="1.1" fill="#f7f7f7" /><rect x="531" y="497" width="5.2" height="15.5" rx="0" stroke-width="1" fill="#f7f7f7" /><rect x="512.8" y="483.8" width="4.800000000000068" height="7.5" rx="0" stroke-width="1" fill="url(#h45)" /><rect x="512.8" y="518.1" width="4.800000000000068" height="6.2" rx="0" stroke-width="1" fill="url(#h45)" /><rect x="528.6" y="483.8" width="4.7999999999999545" height="7.5" rx="0" stroke-width="1" fill="url(#h45)" /><rect x="528.6" y="518.1" width="4.7999999999999545" height="6.2" rx="0" stroke-width="1" fill="url(#h45)" /><rect x="536.2" y="494" width="15.1" height="21.4" rx="0" stroke-width="1.2" fill="#f7f7f7" /><line x1="540" y1="494" x2="540" y2="515.4" stroke-width="0.8" /><line x1="546" y1="497" x2="546" y2="512" stroke-width="0.8" /><rect x="551.3" y="499" width="4.7" height="11" rx="0" stroke-width="1.1" fill="#f7f7f7" /><rect x="549" y="500" width="2.5" height="8" rx="0" stroke-width="0.6" fill="#333" /><line x1="462" y1="503.3" x2="560" y2="503.3" stroke-width="0.6" stroke-dasharray="17 2 1.5 2"/><path d="M351,528 L386,528 Q390,525 392,523.6 L392,551 Q390,549 386,547 L358,547 L352,537 Z" stroke-width="1.2" fill="none" /><rect x="392" y="523.6" width="4" height="27.4" rx="0" stroke-width="1.1" fill="none" /><rect x="395" y="517" width="26" height="7" rx="0" stroke-width="1" fill="none" /><line x1="414" y1="517" x2="414" y2="524" stroke-width="0.9" /><line x1="418" y1="517" x2="418" y2="524" stroke-width="0.9" /><path d="M396,524 L422,524 L427,529 L396,529 Z" stroke-width="1" fill="url(#h45)" /><rect x="396" y="547" width="26" height="9" rx="0" stroke-width="1" fill="url(#h45)" /><rect x="396" y="529" width="18" height="18" rx="0" stroke-width="1" fill="#f7f7f7" /><rect x="414" y="529" width="17" height="17" rx="0" stroke-width="1.1" fill="#f7f7f7" /><line x1="418" y1="529" x2="418" y2="546" stroke-width="0.8" /><line x1="358" y1="537.4" x2="434" y2="537.4" stroke-width="0.6" stroke-dasharray="17 2 1.5 2"/><circle cx="425" cy="550" r="1.6" stroke-width="0.8" fill="#111" />
<text transform="translate(215.6,27) skewX(-6)" x="0" y="0" font-size="10" text-anchor="start" textLength="94.4" lengthAdjust="spacingAndGlyphs" >8или9или10или11или12</text><line x1="213" y1="28.3" x2="315" y2="28.3" stroke-width="0.9" /><line x1="213" y1="28.3" x2="186" y2="61.5" stroke-width="0.8" /><circle cx="186" cy="61.5" r="1.2" stroke-width="0" fill="#111" /><text transform="translate(334.4,14)" x="0" y="0" font-size="11.2" text-anchor="start" textLength="6.6" lengthAdjust="spacingAndGlyphs" style="font-style:normal">А</text><line x1="329" y1="16.5" x2="344" y2="16.5" stroke-width="0.9" /><path d="M339,15 L344,16.5 L339,18Z" stroke-width="0.5" fill="#111" /><line x1="347" y1="12" x2="347" y2="24" stroke-width="1.2" /><text transform="translate(514,27.5) skewX(-6)" x="0" y="0" font-size="10.5" text-anchor="start" textLength="36" lengthAdjust="spacingAndGlyphs" >67или77</text><line x1="510" y1="28.7" x2="552.5" y2="28.7" stroke-width="0.9" /><text transform="translate(514,39) skewX(-6)" x="0" y="0" font-size="10.5" text-anchor="start" textLength="10" lengthAdjust="spacingAndGlyphs" >83</text><text transform="translate(540,39) skewX(-6)" x="0" y="0" font-size="10.5" text-anchor="start" textLength="10" lengthAdjust="spacingAndGlyphs" >93</text><line x1="510" y1="40.2" x2="552.5" y2="40.2" stroke-width="0.9" /><text transform="translate(514,50) skewX(-6)" x="0" y="0" font-size="10.5" text-anchor="start" textLength="10" lengthAdjust="spacingAndGlyphs" >93</text><line x1="510" y1="51.3" x2="552.5" y2="51.3" stroke-width="0.9" /><line x1="510" y1="28.7" x2="510" y2="51.3" stroke-width="0.9" /><line x1="510" y1="28.7" x2="465.5" y2="155.5" stroke-width="0.8" /><text transform="translate(605,27.5) skewX(-6)" x="0" y="0" font-size="10.5" text-anchor="start" textLength="15" lengthAdjust="spacingAndGlyphs" >1.2</text><line x1="600" y1="28.7" x2="622.5" y2="28.7" stroke-width="0.9" /><line x1="600" y1="28.7" x2="546.5" y2="106.5" stroke-width="0.8" /><circle cx="546.5" cy="106.5" r="1.1" stroke-width="0" fill="#111" /><text transform="translate(667.9,28.6)" x="0" y="0" font-size="13" text-anchor="start" textLength="5.2" lengthAdjust="spacingAndGlyphs" style="font-style:normal">В</text><line x1="661.7" y1="30.5" x2="671.7" y2="30.5" stroke-width="1" /><path d="M667,29.2 L671.7,30.5 L667,31.8Z" stroke-width="0.5" fill="#111" /><line x1="661.7" y1="28.2" x2="661.7" y2="38.2" stroke-width="1.3" /><text transform="translate(668.2,106.3)" x="0" y="0" font-size="13" text-anchor="start" textLength="4.8" lengthAdjust="spacingAndGlyphs" style="font-style:normal">В</text><line x1="661.7" y1="89" x2="661.7" y2="106" stroke-width="1.0" /><line x1="662.4" y1="94.3" x2="672" y2="94.3" stroke-width="1" /><path d="M667.5,93 L672,94.3 L667.5,95.6Z" stroke-width="0.5" fill="#111" /><text transform="translate(46.9,135.5)" x="0" y="0" font-size="14" text-anchor="start" textLength="5.5" lengthAdjust="spacingAndGlyphs" style="font-style:normal">Б</text><line x1="41" y1="142" x2="59" y2="142" stroke-width="1" /><path d="M52,140.5 L59,142 L52,143.5Z" stroke-width="0.5" fill="#111" /><text transform="translate(725,204) skewX(-6)" x="0" y="0" font-size="10.5" text-anchor="start" textLength="26" lengthAdjust="spacingAndGlyphs" >51 или</text><text transform="translate(760,204) skewX(-6)" x="0" y="0" font-size="10.5" text-anchor="start" textLength="9.5" lengthAdjust="spacingAndGlyphs" >54</text><text transform="translate(725,215.5) skewX(-6)" x="0" y="0" font-size="10.5" text-anchor="start" textLength="10.5" lengthAdjust="spacingAndGlyphs" >90</text><text transform="translate(759,215.5) skewX(-6)" x="0" y="0" font-size="10.5" text-anchor="start" textLength="11" lengthAdjust="spacingAndGlyphs" >52</text><text transform="translate(724,227) skewX(-6)" x="0" y="0" font-size="10.5" text-anchor="start" textLength="11" lengthAdjust="spacingAndGlyphs" >99</text><text transform="translate(756,227) skewX(-6)" x="0" y="0" font-size="10.5" text-anchor="start" textLength="10.5" lengthAdjust="spacingAndGlyphs" >99</text><line x1="721" y1="205" x2="787.5" y2="205" stroke-width="0.9" /><line x1="721" y1="217" x2="787.5" y2="217" stroke-width="0.9" /><line x1="721" y1="228.3" x2="787.5" y2="228.3" stroke-width="0.9" /><line x1="721" y1="205" x2="721" y2="228.3" stroke-width="0.9" /><line x1="721" y1="205" x2="661" y2="232.5" stroke-width="0.8" /><text transform="translate(31.3,304) skewX(-6)" x="0" y="0" font-size="10.8" text-anchor="start" textLength="36.5" lengthAdjust="spacingAndGlyphs" >48или49,</text><text transform="translate(77.5,304) skewX(-6)" x="0" y="0" font-size="10.8" text-anchor="start" textLength="9" lengthAdjust="spacingAndGlyphs" >54</text><text transform="translate(43.6,315.2) skewX(-6)" x="0" y="0" font-size="10.8" text-anchor="start" textLength="10.5" lengthAdjust="spacingAndGlyphs" >95</text><text transform="translate(79.7,315.2) skewX(-6)" x="0" y="0" font-size="10.8" text-anchor="start" textLength="11" lengthAdjust="spacingAndGlyphs" >52</text><text transform="translate(79.7,327) skewX(-6)" x="0" y="0" font-size="10.8" text-anchor="start" textLength="12" lengthAdjust="spacingAndGlyphs" >28</text><line x1="27.9" y1="305.3" x2="110" y2="305.3" stroke-width="0.9" /><line x1="27.9" y1="316.6" x2="110" y2="316.6" stroke-width="0.9" /><line x1="27.9" y1="328.3" x2="110" y2="328.3" stroke-width="0.9" /><line x1="110" y1="305.3" x2="110" y2="328.3" stroke-width="0.9" /><line x1="110" y1="305.3" x2="120" y2="344" stroke-width="0.8" /><text transform="translate(119,315) skewX(-6)" x="0" y="0" font-size="10.5" text-anchor="start" textLength="34" lengthAdjust="spacingAndGlyphs" >57или58</text><line x1="115.7" y1="316.6" x2="157.4" y2="316.6" stroke-width="0.9" /><line x1="157.4" y1="316.6" x2="145" y2="333" stroke-width="0.8" /><text transform="translate(176.5,314.8) skewX(-6)" x="0" y="0" font-size="10.5" text-anchor="start" textLength="8.5" lengthAdjust="spacingAndGlyphs" >13</text><text transform="translate(175.5,326.5) skewX(-6)" x="0" y="0" font-size="10.5" text-anchor="start" textLength="10" lengthAdjust="spacingAndGlyphs" >83</text><text transform="translate(175.5,337.7) skewX(-6)" x="0" y="0" font-size="10.5" text-anchor="start" textLength="10" lengthAdjust="spacingAndGlyphs" >93</text><line x1="173" y1="316" x2="189" y2="316" stroke-width="0.9" /><line x1="173" y1="328" x2="189" y2="328" stroke-width="0.9" /><line x1="173" y1="339" x2="189" y2="339" stroke-width="0.9" /><line x1="173" y1="316" x2="173" y2="339" stroke-width="0.9" /><line x1="173" y1="316" x2="157.4" y2="338.4" stroke-width="0.8" /><text transform="translate(199,315) skewX(-6)" x="0" y="0" font-size="10.5" text-anchor="start" textLength="4.5" lengthAdjust="spacingAndGlyphs" >7</text><line x1="195" y1="316" x2="207" y2="316" stroke-width="0.9" /><line x1="195" y1="316" x2="183.5" y2="447" stroke-width="0.8" /><text transform="translate(241.5,315) skewX(-6)" x="0" y="0" font-size="10.5" text-anchor="start" textLength="50.5" lengthAdjust="spacingAndGlyphs" >20или21,  22</text><line x1="234" y1="315.8" x2="295.7" y2="315.8" stroke-width="0.9" /><line x1="234" y1="315.8" x2="232" y2="355" stroke-width="0.8" /><text transform="translate(240,296) skewX(-6)" x="0" y="0" font-size="10.5" text-anchor="start" textLength="19" lengthAdjust="spacingAndGlyphs" >А–А</text><text transform="translate(321,315) skewX(-6)" x="0" y="0" font-size="10.5" text-anchor="start" textLength="55.6" lengthAdjust="spacingAndGlyphs" >23или24,  25</text><text transform="translate(332,326.5) skewX(-6)" x="0" y="0" font-size="10.5" text-anchor="start" textLength="11" lengthAdjust="spacingAndGlyphs" >87</text><text transform="translate(365.7,326.5) skewX(-6)" x="0" y="0" font-size="10.5" text-anchor="start" textLength="11" lengthAdjust="spacingAndGlyphs" >88</text><line x1="317.5" y1="316" x2="387.5" y2="316" stroke-width="0.9" /><line x1="317.5" y1="327.2" x2="387.5" y2="327.2" stroke-width="0.9" /><line x1="317.5" y1="316" x2="317.5" y2="327.2" stroke-width="0.9" /><line x1="317.5" y1="316" x2="259.6" y2="344.6" stroke-width="0.8" /><text transform="translate(365.7,342.2) skewX(-6)" x="0" y="0" font-size="10.5" text-anchor="start" textLength="35" lengthAdjust="spacingAndGlyphs" >26или27</text><line x1="362" y1="343" x2="401" y2="343" stroke-width="0.9" /><line x1="401" y1="343" x2="422" y2="352" stroke-width="0.8" /><text transform="translate(294.6,356.7) skewX(-6)" x="0" y="0" font-size="10.5" text-anchor="start" textLength="89" lengthAdjust="spacingAndGlyphs" >15или18,  16,  17 или19</text><line x1="291" y1="357.4" x2="387.5" y2="357.4" stroke-width="0.9" /><line x1="291" y1="357.4" x2="254" y2="396" stroke-width="0.8" /><text transform="translate(321,382.5) skewX(-6)" x="0" y="0" font-size="10.5" text-anchor="start" textLength="25.5" lengthAdjust="spacingAndGlyphs" >4или5</text><text transform="translate(340.4,394) skewX(-6)" x="0" y="0" font-size="10.5" text-anchor="start" textLength="10.6" lengthAdjust="spacingAndGlyphs" >29</text><line x1="317.5" y1="383.2" x2="353.7" y2="383.2" stroke-width="0.9" /><line x1="317.5" y1="394.8" x2="353.7" y2="394.8" stroke-width="0.9" /><line x1="317.5" y1="383.2" x2="317.5" y2="394.8" stroke-width="0.9" /><line x1="317.5" y1="383.2" x2="262" y2="441" stroke-width="0.8" /><text transform="translate(321,413.3) skewX(-6)" x="0" y="0" font-size="10.5" text-anchor="start" textLength="35" lengthAdjust="spacingAndGlyphs" >41или39</text><text transform="translate(321,425) skewX(-6)" x="0" y="0" font-size="10.5" text-anchor="start" textLength="11" lengthAdjust="spacingAndGlyphs" >75</text><text transform="translate(342.8,425) skewX(-6)" x="0" y="0" font-size="10.5" text-anchor="start" textLength="11" lengthAdjust="spacingAndGlyphs" >76</text><text transform="translate(321,436.2) skewX(-6)" x="0" y="0" font-size="10.5" text-anchor="start" textLength="11" lengthAdjust="spacingAndGlyphs" >92</text><text transform="translate(342.8,436.2) skewX(-6)" x="0" y="0" font-size="10.5" text-anchor="start" textLength="11" lengthAdjust="spacingAndGlyphs" >81</text><line x1="317.5" y1="414" x2="358.5" y2="414" stroke-width="0.9" /><line x1="317.5" y1="425.9" x2="358.5" y2="425.9" stroke-width="0.9" /><line x1="317.5" y1="437" x2="358.5" y2="437" stroke-width="0.9" /><line x1="317.5" y1="414" x2="317.5" y2="437" stroke-width="0.9" /><line x1="317.5" y1="414" x2="272" y2="452" stroke-width="0.8" /><text transform="translate(387,295)" x="0" y="0" font-size="13" text-anchor="start" textLength="6" lengthAdjust="spacingAndGlyphs" style="font-style:normal">А</text><line x1="382.5" y1="282.5" x2="396" y2="282.5" stroke-width="0.9" /><path d="M391,281 L396,282.5 L391,284Z" stroke-width="0.5" fill="#111" /><line x1="398" y1="279" x2="398" y2="288" stroke-width="1.2" /><text transform="translate(441,310.9) skewX(-6)" x="0" y="0" font-size="10.5" text-anchor="start" textLength="6.6" lengthAdjust="spacingAndGlyphs" >Б</text><text transform="translate(493,324) skewX(-6)" x="0" y="0" font-size="10.5" text-anchor="start" textLength="12" lengthAdjust="spacingAndGlyphs" >32</text><text transform="translate(493,336) skewX(-6)" x="0" y="0" font-size="10.5" text-anchor="start" textLength="12.5" lengthAdjust="spacingAndGlyphs" >87</text><text transform="translate(493,347.5) skewX(-6)" x="0" y="0" font-size="10.5" text-anchor="start" textLength="12.5" lengthAdjust="spacingAndGlyphs" >98</text><line x1="490.6" y1="324.8" x2="507.5" y2="324.8" stroke-width="0.9" /><line x1="490.6" y1="337" x2="507.5" y2="337" stroke-width="0.9" /><line x1="490.6" y1="348.2" x2="507.5" y2="348.2" stroke-width="0.9" /><line x1="490.6" y1="324.8" x2="490.6" y2="348.2" stroke-width="0.9" /><line x1="490.6" y1="324.8" x2="475" y2="353" stroke-width="0.8" /><text transform="translate(22.5,427.5) skewX(-6)" x="0" y="0" font-size="10.5" text-anchor="start" textLength="33.7" lengthAdjust="spacingAndGlyphs" >53или55</text><line x1="18.75" y1="428.5" x2="60.6" y2="428.5" stroke-width="0.9" /><line x1="60.6" y1="428.5" x2="104.4" y2="378.75" stroke-width="0.8" /><circle cx="104.4" cy="378.75" r="1.3" stroke-width="0" fill="#111" /><text transform="translate(18.2,479.3) skewX(-6)" x="0" y="0" font-size="10.5" text-anchor="start" textLength="36.4" lengthAdjust="spacingAndGlyphs" >103или14</text><text transform="translate(20.6,491) skewX(-6)" x="0" y="0" font-size="10.5" text-anchor="start" textLength="35.2" lengthAdjust="spacingAndGlyphs" >85или33</text><text transform="translate(31.5,502) skewX(-6)" x="0" y="0" font-size="10.5" text-anchor="start" textLength="9.8" lengthAdjust="spacingAndGlyphs" >94</text><line x1="14.6" y1="480" x2="59.5" y2="480" stroke-width="0.9" /><line x1="14.6" y1="491.5" x2="59.5" y2="491.5" stroke-width="0.9" /><line x1="14.6" y1="502.6" x2="59.5" y2="502.6" stroke-width="0.9" /><line x1="59.5" y1="480" x2="59.5" y2="502.6" stroke-width="0.9" /><line x1="59.5" y1="480" x2="99.5" y2="468.6" stroke-width="0.8" /><text transform="translate(48.5,519) skewX(-6)" x="0" y="0" font-size="10.5" text-anchor="start" textLength="5" lengthAdjust="spacingAndGlyphs" >3</text><line x1="45" y1="519.6" x2="59.5" y2="519.6" stroke-width="0.9" /><line x1="58" y1="519.6" x2="100.7" y2="504.3" stroke-width="0.8" /><text transform="translate(7.3,555.3) skewX(-6)" x="0" y="0" font-size="10.5" text-anchor="start" textLength="77.7" lengthAdjust="spacingAndGlyphs" >42или43,  44или45</text><line x1="4.9" y1="556.5" x2="87.4" y2="556.5" stroke-width="0.9" /><line x1="87.4" y1="556.5" x2="114" y2="538.3" stroke-width="0.8" /><circle cx="114" cy="538.3" r="1" stroke-width="0" fill="#111" /><text transform="translate(321.3,496.7) skewX(-6)" x="0" y="0" font-size="10.5" text-anchor="start" textLength="10.5" lengthAdjust="spacingAndGlyphs" >36</text><line x1="316.5" y1="498.3" x2="334.6" y2="498.3" stroke-width="0.9" /><line x1="316.5" y1="498.3" x2="289.8" y2="487.2" stroke-width="0.8" /><text transform="translate(322,524.4) skewX(-6)" x="0" y="0" font-size="10.5" text-anchor="start" textLength="9.8" lengthAdjust="spacingAndGlyphs" >74</text><text transform="translate(322,536) skewX(-6)" x="0" y="0" font-size="10.5" text-anchor="start" textLength="9.8" lengthAdjust="spacingAndGlyphs" >91</text><line x1="272.6" y1="520" x2="315.5" y2="526.3" stroke-width="0.8" /><line x1="315.5" y1="526.3" x2="335.6" y2="526.3" stroke-width="0.9" /><line x1="317.5" y1="537.2" x2="335.6" y2="537.2" stroke-width="0.9" /><line x1="317.5" y1="526.3" x2="317.5" y2="537.2" stroke-width="0.9" /><text transform="translate(230.6,542.6) skewX(-6)" x="0" y="0" font-size="10.5" text-anchor="start" textLength="37.2" lengthAdjust="spacingAndGlyphs" >46или47</text><line x1="227.7" y1="543.5" x2="269.7" y2="543.5" stroke-width="0.9" /><line x1="227.7" y1="543.5" x2="197" y2="515" stroke-width="0.8" /><text transform="translate(230.6,557) skewX(-6)" x="0" y="0" font-size="10.5" text-anchor="start" textLength="39.1" lengthAdjust="spacingAndGlyphs" >65или106</text><line x1="226.7" y1="558.2" x2="273.5" y2="558.2" stroke-width="0.9" /><line x1="226.7" y1="558.2" x2="181" y2="530" stroke-width="0.8" /><text transform="translate(282,557) skewX(-6)" x="0" y="0" font-size="10.5" text-anchor="start" textLength="34.5" lengthAdjust="spacingAndGlyphs" >37или38</text><line x1="277.3" y1="558.2" x2="320.3" y2="558.2" stroke-width="0.9" /><line x1="277.3" y1="558.2" x2="268" y2="525" stroke-width="0.8" /><text transform="translate(186,569) skewX(-6)" x="0" y="0" font-size="10.5" text-anchor="start" textLength="36" lengthAdjust="spacingAndGlyphs" >63или86</text><line x1="180" y1="569.7" x2="228" y2="569.7" stroke-width="0.9" /><line x1="180" y1="569.7" x2="176" y2="548" stroke-width="0.8" /><text transform="translate(383.6,512) skewX(-6)" x="0" y="0" font-size="10.5" text-anchor="start" textLength="32" lengthAdjust="spacingAndGlyphs" >Вариант</text><text transform="translate(346,557) skewX(-6)" x="0" y="0" font-size="10.5" text-anchor="start" textLength="10" lengthAdjust="spacingAndGlyphs" >45</text><line x1="343" y1="558.4" x2="361" y2="558.4" stroke-width="0.9" /><line x1="361" y1="558.4" x2="373" y2="543" stroke-width="0.8" /><circle cx="373" cy="543" r="1" stroke-width="0" fill="#111" /><text transform="translate(435,572) skewX(-6)" x="0" y="0" font-size="10.5" text-anchor="start" textLength="35" lengthAdjust="spacingAndGlyphs" >63или86</text><line x1="431" y1="572.4" x2="475" y2="572.4" stroke-width="0.9" /><line x1="431" y1="572.4" x2="425" y2="550" stroke-width="0.8" /><text transform="translate(499.4,473) skewX(-6)" x="0" y="0" font-size="10.5" text-anchor="start" textLength="20.6" lengthAdjust="spacingAndGlyphs" >В–В</text><text transform="translate(561,482.6) skewX(-6)" x="0" y="0" font-size="10.5" text-anchor="start" textLength="41.5" lengthAdjust="spacingAndGlyphs" >51 или  54</text><text transform="translate(561,494.5) skewX(-6)" x="0" y="0" font-size="10.5" text-anchor="start" textLength="12.6" lengthAdjust="spacingAndGlyphs" >90</text><text transform="translate(593,494.5) skewX(-6)" x="0" y="0" font-size="10.5" text-anchor="start" textLength="11" lengthAdjust="spacingAndGlyphs" >52</text><text transform="translate(561,505.5) skewX(-6)" x="0" y="0" font-size="10.5" text-anchor="start" textLength="12.6" lengthAdjust="spacingAndGlyphs" >99</text><text transform="translate(593,505.5) skewX(-6)" x="0" y="0" font-size="10.5" text-anchor="start" textLength="11" lengthAdjust="spacingAndGlyphs" >99</text><line x1="558.5" y1="483.5" x2="621.8" y2="483.5" stroke-width="0.9" /><line x1="558.5" y1="495" x2="621.8" y2="495" stroke-width="0.9" /><line x1="558.5" y1="506" x2="621.8" y2="506" stroke-width="0.9" /><line x1="559" y1="483.5" x2="559" y2="506" stroke-width="0.9" /><line x1="559" y1="483.5" x2="549.5" y2="498.5" stroke-width="0.8" /><circle cx="549.5" cy="498.5" r="1.1" stroke-width="0" fill="#111" />
</g>
<text x="219" y="304.5" font-size="48" style="font-style:normal;fill:none;stroke:#999;stroke-width:0.9">AUTOPITER.RU</text>
</svg></body></html>
